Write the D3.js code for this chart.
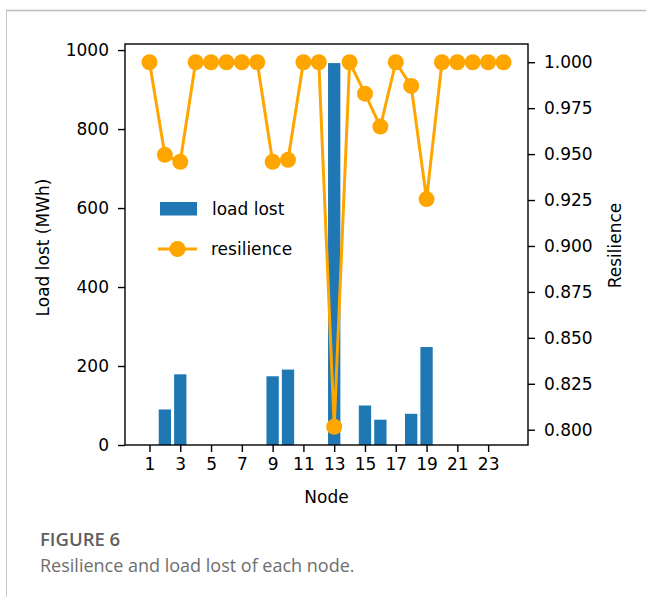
<!DOCTYPE html>
<html>
<head>
<meta charset="utf-8">
<script src="https://cdn.jsdelivr.net/npm/d3@7"></script>
<style>
  html, body { margin: 0; padding: 0; background: #fff; }
  svg { display: block; }
  .tick text { font-family: "DejaVu Sans", sans-serif; font-size: 17px; fill: #000; }
</style>
</head>
<body>
<svg id="chart" width="646" height="597"></svg>
<script>
// Nodes 1..24
const nodes = d3.range(1, 25);
// Load lost per node (MWh)
const loadLost = [0, 90, 179, 0, 0, 0, 0, 0, 174, 191, 0, 0, 967, 0, 100, 64, 0, 79, 248, 0, 0, 0, 0, 0];
// Resilience per node
const resilience = [1.000, 0.9496, 0.9458, 1.000, 1.000, 1.000, 1.000, 1.000, 0.9458, 0.9469,
                    1.000, 1.000, 0.8016, 1.000, 0.9829, 0.9650, 1.000, 0.9871, 0.9255, 1.000,
                    1.000, 1.000, 1.000, 1.000];
const xTickValues = [1, 3, 5, 7, 9, 11, 13, 15, 17, 19, 21, 23];
const leftTickValues = [0, 200, 400, 600, 800, 1000];
const rightTickValues = [0.800, 0.825, 0.850, 0.875, 0.900, 0.925, 0.950, 0.975, 1.000];

const svg = d3.select("#chart");
const W = 646, H = 597;
const plot = { left: 125, right: 528, top: 44, bottom: 445 };

// Card frame
svg.append("line").attr("x1", 6.5).attr("x2", 6.5).attr("y1", 10).attr("y2", H)
  .attr("stroke", "#c9c9c9").attr("stroke-width", 1);
svg.append("line").attr("x1", 6).attr("x2", W).attr("y1", 10.5).attr("y2", 10.5)
  .attr("stroke", "#bdbdbd").attr("stroke-width", 1.5);

// Scales with 5% padding around the data extents
const barW = 0.8;
const xMin = 1 - barW / 2, xMax = 24 + barW / 2, xPad = (xMax - xMin) * 0.05;
const x = d3.scaleLinear().domain([xMin - xPad, xMax + xPad]).range([plot.left, plot.right]);

const yL = d3.scaleLinear().domain([0, d3.max(loadLost) * 1.05]).range([plot.bottom, plot.top]);

const rMin = d3.min(resilience), rMax = d3.max(resilience), rPad = (rMax - rMin) * 0.05;
const yR = d3.scaleLinear().domain([rMin - rPad, rMax + rPad]).range([plot.bottom, plot.top]);

const blue = "#1f77b4", orange = "#ffa500";

// Bars
svg.append("g").selectAll("rect").data(nodes).join("rect")
  .attr("x", d => x(d - barW / 2))
  .attr("width", d => x(d + barW / 2) - x(d - barW / 2))
  .attr("y", (d, i) => yL(loadLost[i]))
  .attr("height", (d, i) => yL(0) - yL(loadLost[i]))
  .attr("fill", blue);

// Resilience line and markers
const line = d3.line().x((d, i) => x(nodes[i])).y(d => yR(d));
svg.append("path").datum(resilience)
  .attr("d", line).attr("fill", "none").attr("stroke", orange)
  .attr("stroke-width", 3).attr("stroke-linejoin", "round");
svg.append("g").selectAll("circle").data(resilience).join("circle")
  .attr("cx", (d, i) => x(nodes[i])).attr("cy", d => yR(d)).attr("r", 8)
  .attr("fill", orange);

// Spines
svg.append("rect").attr("x", plot.left).attr("y", plot.top)
  .attr("width", plot.right - plot.left).attr("height", plot.bottom - plot.top)
  .attr("fill", "none").attr("stroke", "#000").attr("stroke-width", 1.4);

// Axes
function styleAxis(g) {
  g.select(".domain").remove();
  g.selectAll(".tick line").attr("stroke", "#000").attr("stroke-width", 1.4);
}
svg.append("g").attr("transform", `translate(0,${plot.bottom})`)
  .call(d3.axisBottom(x).tickValues(xTickValues).tickFormat(d3.format("d")).tickSize(7).tickPadding(6))
  .call(styleAxis);
svg.append("g").attr("transform", `translate(${plot.left},0)`)
  .call(d3.axisLeft(yL).tickValues(leftTickValues).tickFormat(d3.format("d")).tickSize(7).tickPadding(9))
  .call(styleAxis);
svg.append("g").attr("transform", `translate(${plot.right},0)`)
  .call(d3.axisRight(yR).tickValues(rightTickValues).tickFormat(d3.format(".3f")).tickSize(7).tickPadding(9))
  .call(styleAxis);

// Axis titles
const labelFont = "DejaVu Sans, sans-serif";
svg.append("text").attr("x", (plot.left + plot.right) / 2).attr("y", 503)
  .attr("text-anchor", "middle").attr("font-family", labelFont).attr("font-size", 17).text("Node");
svg.append("text").attr("transform", `translate(49,${(plot.top + plot.bottom) / 2 + 3}) rotate(-90)`)
  .attr("text-anchor", "middle").attr("font-family", labelFont).attr("font-size", 17).text("Load lost (MWh)");
svg.append("text").attr("transform", `translate(621,${(plot.top + plot.bottom) / 2 + 1}) rotate(-90)`)
  .attr("text-anchor", "middle").attr("font-family", labelFont).attr("font-size", 17).text("Resilience");

// Legend
const legend = svg.append("g");
legend.append("rect").attr("x", 160).attr("y", 202).attr("width", 37).attr("height", 13.5).attr("fill", blue);
legend.append("text").attr("x", 212).attr("y", 215).attr("font-family", labelFont).attr("font-size", 17).text("load lost");
legend.append("line").attr("x1", 158).attr("x2", 197).attr("y1", 249).attr("y2", 249)
  .attr("stroke", orange).attr("stroke-width", 3);
legend.append("circle").attr("cx", 177.5).attr("cy", 249).attr("r", 8).attr("fill", orange);
legend.append("text").attr("x", 211).attr("y", 255).attr("font-family", labelFont).attr("font-size", 17).text("resilience");

// Caption
svg.append("text").attr("x", 40).attr("y", 546).attr("font-family", "Open Sans, sans-serif")
  .attr("font-size", 18.5).attr("font-weight", 600).attr("fill", "#5f5f5f").text("FIGURE 6");
svg.append("text").attr("x", 40).attr("y", 572).attr("font-family", "Open Sans, sans-serif")
  .attr("font-size", 18).attr("fill", "#6e6e6e").text("Resilience and load lost of each node.");
</script>
</body>
</html>
